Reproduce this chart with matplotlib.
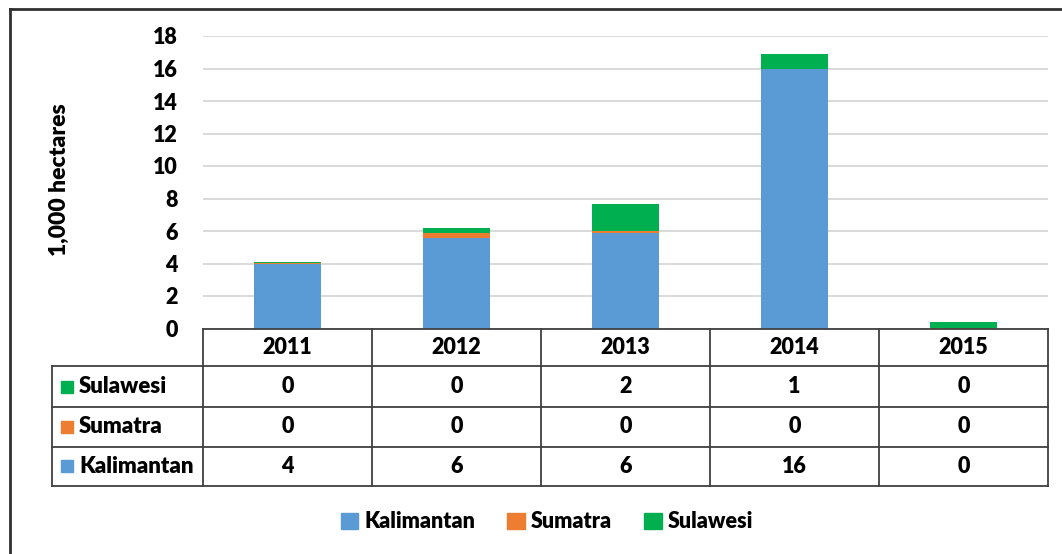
import numpy as np
import matplotlib
matplotlib.use('Agg')
import matplotlib.pyplot as plt
import matplotlib.transforms as mtransforms
from matplotlib.patches import Rectangle, Patch
from matplotlib.lines import Line2D

plt.rcParams['font.family'] = ['Lato', 'DejaVu Sans']
wt = 'heavy'
plt.rcParams['font.weight'] = wt

# data (1,000 hectares)
years = ['2011', '2012', '2013', '2014', '2015']
kalimantan = [3.95, 5.6, 5.9, 16.0, 0.0]
sumatra = [0.07, 0.3, 0.08, -0.05, 0.03]
sulawesi = [0.06, 0.3, 1.7, 0.9, 0.4]

c_kal = '#5B9BD5'
c_sum = '#ED7D31'
c_sul = '#00B050'
line_c = '#404040'
fs = 15.5

W, H = 1062, 554
fig = plt.figure(figsize=(W / 100, H / 100), dpi=100)

def fx(px):
    return px / W

def fy(py):
    return 1 - py / H

ax = fig.add_axes([fx(203), fy(328.5), fx(1048) - fx(203), fy(36) - fy(328.5)])

x = np.arange(len(years))
kal = np.array(kalimantan)
sm = np.array(sumatra)
sul = np.array(sulawesi)
bw = 0.4

ax.bar(x, kal, bw, color=c_kal, zorder=3)
sum_bottom = np.where(sm >= 0, kal, 0)
ax.bar(x, sm, bw, bottom=sum_bottom, color=c_sum, zorder=3, clip_on=False)
sul_bottom = kal + np.clip(sm, 0, None)
ax.bar(x, sul, bw, bottom=sul_bottom, color=c_sul, zorder=3)

ax.set_xlim(-0.5, len(years) - 0.5)
ax.set_ylim(0, 18)
ax.set_yticks(range(0, 19, 2))
ax.set_xticks([])
ax.tick_params(axis='y', length=0, pad=18, labelsize=fs)
ax.grid(axis='y', color='#D9D9D9', lw=1.4, zorder=0)
for s in ax.spines.values():
    s.set_visible(False)

ax.set_ylabel('1,000 hectares', fontsize=16.5, fontweight=wt)
ax.yaxis.set_label_coords(fx(70), fy(180), transform=fig.transFigure)

# data table under the axis
tr = mtransforms.blended_transform_factory(ax.transData, fig.transFigure)
row_y = [328.5, 366, 407, 446.5, 486]
x_left = -0.5 - (203 - 52) / 169.0
x_right = len(years) - 0.5

def hline(x0, x1, py):
    fig.add_artist(Line2D([x0, x1], [fy(py), fy(py)], transform=tr, color=line_c, lw=1.3))

def vline(xv, py0, py1):
    fig.add_artist(Line2D([xv, xv], [fy(py0), fy(py1)], transform=tr, color=line_c, lw=1.3))

hline(-0.5, x_right, row_y[0])
for py in row_y[1:]:
    hline(x_left, x_right, py)
vline(x_left, row_y[1], row_y[-1])
for i in range(len(years) + 1):
    vline(-0.5 + i, row_y[0], row_y[-1])

for i, yr in enumerate(years):
    fig.text(i, fy((row_y[0] + row_y[1]) / 2), yr, transform=tr, ha='center', va='center',
             fontsize=fs, fontweight=wt)

rows = [('Sulawesi', sul, c_sul), ('Sumatra', sm, c_sum), ('Kalimantan', kal, c_kal)]
for r, (name, vals, col) in enumerate(rows):
    yc = (row_y[r + 1] + row_y[r + 2]) / 2
    fig.add_artist(Rectangle((fx(61), fy(yc + 6)), fx(12), fy(yc - 6) - fy(yc + 6),
                             transform=fig.transFigure, color=col))
    fig.text(fx(79), fy(yc), name, ha='left', va='center', fontsize=16, fontweight=wt)
    for i, v in enumerate(vals):
        fig.text(i, fy(yc), str(int(round(v))), transform=tr, ha='center', va='center',
                 fontsize=fs, fontweight=wt)

# legend
handles = [Patch(color=c_kal), Patch(color=c_sum), Patch(color=c_sul)]
fig.legend(handles, ['Kalimantan', 'Sumatra', 'Sulawesi'], loc='center',
           bbox_to_anchor=(fx(547), fy(522)), ncol=3, frameon=False,
           handlelength=0.8, handleheight=0.8, handletextpad=0.3, columnspacing=1.5,
           prop={'weight': wt, 'size': 15.5})

# outer frame (runs off the right and bottom edges)
fig.add_artist(Line2D([fx(10), fx(10)], [fy(9), fy(600)], transform=fig.transFigure, color='#303030', lw=2))
fig.add_artist(Line2D([fx(10), fx(1100)], [fy(9), fy(9)], transform=fig.transFigure, color='#303030', lw=2))

fig.savefig('out.png', dpi=100)
